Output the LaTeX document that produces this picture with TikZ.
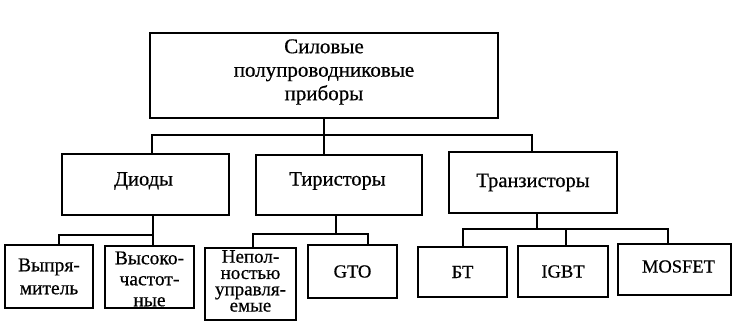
\documentclass[tikz,border=0pt]{standalone}
\usepackage{fontspec}
\setmainfont{Liberation Serif}[FakeBold=0.6]
\begin{document}
\begin{tikzpicture}[x=1pt,y=-1pt,
  box/.style={draw, line width=1.4pt, inner sep=0pt, align=center, anchor=center},
  conn/.style={line width=1.4pt},
  fA/.style={font=\fontsize{21}{23.5}\selectfont},
  fB/.style={font=\fontsize{20.5}{23}\selectfont},
  fC/.style={font=\fontsize{18.5}{22}\selectfont},
]
\useasboundingbox (0,0) rectangle (737,328);
% level 1
\node[box, minimum width=348pt, minimum height=85pt] (top) at (324,75.5) {};
\node[fA, align=center] (toptxt) at (324,72) {Силовые\\полупроводниковые\\приборы};
% level 2
\node[box, minimum width=167pt, minimum height=61pt] (diod) at (145.5,184.5) {};
\node[fB] (diodtxt) at (143.5,181) {Диоды};
\node[box, minimum width=166pt, minimum height=60pt] (tir) at (339,185) {};
\node[fB] (tirtxt) at (337.5,181) {Тиристоры};
\node[box, fB, minimum width=168pt, minimum height=61pt] (tran) at (533,182.5) {Транзисторы};
% level 3
\node[box, font=\fontsize{19.5}{23}\selectfont, minimum width=88pt, minimum height=63pt] (vyp) at (49,276.5) {Выпря-\\митель};
\node[box, minimum width=89pt, minimum height=62pt] (vys) at (149.5,277) {};
\node[font=\fontsize{19.5}{21}\selectfont, align=center] (vystxt) at (149.5,279) {Высоко-\\частот-\\ные};
\node[box, minimum width=91pt, minimum height=72pt] (nep) at (250.5,284) {};
\node[font=\fontsize{19}{16.3}\selectfont, align=center] (neptxt) at (250.5,281) {Непол-\\ностью\\управля-\\емые};
\node[box, fC, minimum width=89pt, minimum height=53pt] (gto) at (352.5,271.5) {GTO};
\node[box, fC, minimum width=89pt, minimum height=50pt] (bt) at (462.5,272) {БТ};
\node[box, fC, minimum width=90pt, minimum height=51pt] (igbt) at (563,271.5) {IGBT};
\node[box, minimum width=113pt, minimum height=51pt] (mos) at (674.5,269.5) {};
\node[fC] (mostxt) at (678.5,266.5) {MOSFET};
% bus coordinates
\coordinate (b1) at (324,135);
\coordinate (b2) at (153,235);
\coordinate (b3) at (336,234);
\coordinate (b4) at (537,229);
% level 1 -> 2
\draw[conn] (top.south) -- (top.south |- tir.north);
\draw[conn] ([xshift=6.5pt]diod.north) |- ([xshift=-1pt]tran.north |- b1) -- ([xshift=-1pt]tran.north);
% Диоды
\draw[conn] ([xshift=7.5pt]diod.south) -- ([xshift=7.5pt]diod.south |- vys.north);
\draw[conn] ([xshift=10pt]vyp.north) |- (b2);
% Тиристоры
\draw[conn] ([xshift=-3pt]tir.south) -- (b3);
\draw[conn] ([xshift=2.5pt]nep.north) |- ([xshift=15.5pt]gto.north |- b3) -- ([xshift=15.5pt]gto.north);
% Транзисторы
\draw[conn] ([xshift=4pt]tran.south) -- (b4);
\draw[conn] ([xshift=0.5pt]bt.north) |- ([xshift=-6.5pt]mos.north |- b4) -- ([xshift=-6.5pt]mos.north);
\draw[conn] ([xshift=3pt]igbt.north) -- ([xshift=3pt]igbt.north |- b4);
\end{tikzpicture}
\end{document}
